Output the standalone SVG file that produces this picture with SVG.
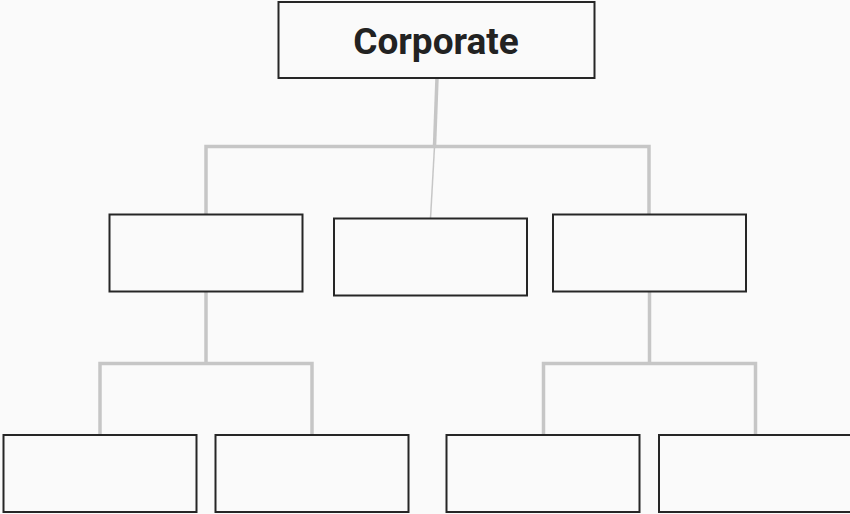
<svg xmlns="http://www.w3.org/2000/svg" width="850" height="514" viewBox="0 0 850 514">
<style>
.box{fill:#fafafa;stroke:#262626;stroke-width:2}
.conn{fill:none;stroke:#c6c6c6;stroke-width:3.5}
.thin{fill:none;stroke:#c6c6c6;stroke-width:1.5}
.lbl{font-family:Roboto,"Liberation Sans",sans-serif;font-weight:bold;font-size:37px;fill:#222;text-anchor:middle}
</style>
<rect width="850" height="514" fill="#fafafa"/>
<g id="connectors">
<polyline class="conn" points="206,214 206,146.5 649,146.5 649,214"/>
<line class="conn" x1="437" y1="78" x2="434.5" y2="146.5"/>
<line class="thin" x1="434.5" y1="146.5" x2="430.5" y2="218.5"/>
<line class="conn" x1="206" y1="291.5" x2="206" y2="363.5"/>
<polyline class="conn" points="100,435 100,363.5 312,363.5 312,435"/>
<line class="conn" x1="649.5" y1="291.5" x2="649.5" y2="363.5"/>
<polyline class="conn" points="543.5,435 543.5,363.5 755.5,363.5 755.5,435"/>
</g>
<g id="corporate">
<rect class="box" x="278.5" y="2" width="316" height="76"/>
<text class="lbl" x="436" y="54">Corporate</text>
</g>
<g id="mid-left"><rect class="box" x="109.5" y="214.5" width="193" height="77"/></g>
<g id="mid-center"><rect class="box" x="334" y="218.5" width="193" height="77"/></g>
<g id="mid-right"><rect class="box" x="553" y="214.5" width="193" height="77"/></g>
<g id="bottom-1"><rect class="box" x="3.5" y="435" width="193" height="77"/></g>
<g id="bottom-2"><rect class="box" x="215.5" y="435" width="193" height="77"/></g>
<g id="bottom-3"><rect class="box" x="446.5" y="435" width="193" height="77"/></g>
<g id="bottom-4"><rect class="box" x="659" y="435" width="193" height="77"/></g>
</svg>
